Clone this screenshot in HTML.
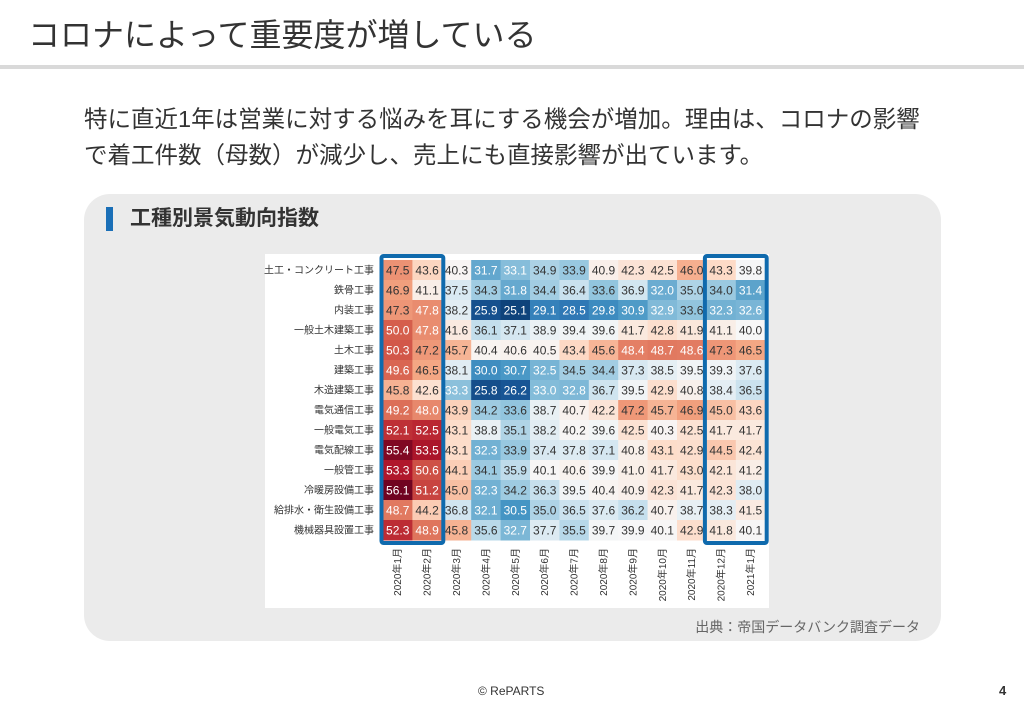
<!DOCTYPE html>
<html><head><meta charset="utf-8">
<style>
*{margin:0;padding:0;box-sizing:border-box}
body{width:1024px;height:709px;background:#fff;position:relative;overflow:hidden;font-family:"Liberation Sans","Noto Sans CJK JP",sans-serif;color:#333}
.abs{position:absolute;white-space:nowrap}
</style></head><body>
<div class="abs" style="left:28px;top:14px;font-size:32px;line-height:42px;color:#333">コロナによって重要度が増している</div>
<div class="abs" style="left:0;top:65px;width:1024px;height:4px;background:#d9d9d9"></div>
<div class="abs" style="left:84px;top:101px;font-size:23.5px;line-height:36px;color:#333">特に直近1年は営業に対する悩みを耳にする機会が増加。理由は、コロナの影響<br>で着工件数（母数）が減少し、売上にも直接影響が出ています。</div>
<div class="abs" style="left:84px;top:194px;width:857px;height:447px;background:#ebebeb;border-radius:26px"></div>
<div class="abs" style="left:106px;top:207px;width:7px;height:24px;background:#1a6fb7"></div>
<div class="abs" style="left:130px;top:205px;font-size:21px;line-height:28px;font-weight:bold;color:#333">工種別景気動向指数</div>
<div class="abs" style="left:265px;top:254px;width:504px;height:354px;background:#fff"></div>
<svg class="abs" id="chart" style="left:0;top:0" width="1024" height="709"></svg>
<div class="abs" style="right:104px;top:617px;font-size:14px;color:#666">出典：帝国データバンク調査データ</div>
<div class="abs" style="left:478px;top:684px;font-size:12px;color:#333">© RePARTS</div>
<div class="abs" style="left:999px;top:683px;font-size:13px;font-weight:bold;color:#333">4</div>
<script>
const rows=["土工・コンクリート工事","鉄骨工事","内装工事","一般土木建築工事","土木工事","建築工事","木造建築工事","電気通信工事","一般電気工事","電気配線工事","一般管工事","冷暖房設備工事","給排水・衛生設備工事","機械器具設置工事"];
const cols=["2020年1月","2020年2月","2020年3月","2020年4月","2020年5月","2020年6月","2020年7月","2020年8月","2020年9月","2020年10月","2020年11月","2020年12月","2021年1月"];
const values=[
[47.5,43.6,40.3,31.7,33.1,34.9,33.9,40.9,42.3,42.5,46.0,43.3,39.8],
[46.9,41.1,37.5,34.3,31.8,34.4,36.4,33.6,36.9,32.0,35.0,34.0,31.4],
[47.3,47.8,38.2,25.9,25.1,29.1,28.5,29.8,30.9,32.9,33.6,32.3,32.6],
[50.0,47.8,41.6,36.1,37.1,38.9,39.4,39.6,41.7,42.8,41.9,41.1,40.0],
[50.3,47.2,45.7,40.4,40.6,40.5,43.4,45.6,48.4,48.7,48.6,47.3,46.5],
[49.6,46.5,38.1,30.0,30.7,32.5,34.5,34.4,37.3,38.5,39.5,39.3,37.6],
[45.8,42.6,33.3,25.8,26.2,33.0,32.8,36.7,39.5,42.9,40.8,38.4,36.5],
[49.2,48.0,43.9,34.2,33.6,38.7,40.7,42.2,47.2,45.7,46.9,45.0,43.6],
[52.1,52.5,43.1,38.8,35.1,38.2,40.2,39.6,42.5,40.3,42.5,41.7,41.7],
[55.4,53.5,43.1,32.3,33.9,37.4,37.8,37.1,40.8,43.1,42.9,44.5,42.4],
[53.3,50.6,44.1,34.1,35.9,40.1,40.6,39.9,41.0,41.7,43.0,42.1,41.2],
[56.1,51.2,45.0,32.3,34.2,36.3,39.5,40.4,40.9,42.3,41.7,42.3,38.0],
[48.7,44.2,36.8,32.1,30.5,35.0,36.5,37.6,36.2,40.7,38.7,38.3,41.5],
[52.3,48.9,45.8,35.6,32.7,37.7,35.5,39.7,39.9,40.1,42.9,41.8,40.1]];
const highlightGroups=[[0,1],[11,12]];
const X0=383,Y0=260,CW=29.4,RH=20;
const xPos=i=>X0+i*CW, yPos=j=>Y0+j*RH;
const stops=[[0,[5,48,97]],[0.1,[33,102,172]],[0.2,[67,147,195]],[0.3,[146,197,222]],[0.4,[209,229,240]],[0.5,[247,247,247]],[0.6,[253,219,199]],[0.7,[244,165,130]],[0.8,[214,96,77]],[0.9,[178,24,43]],[1,[103,0,31]]];
function color(v){
  let t=v<40?0.5-0.5*(40-v)/16:0.5+0.5*(v-40)/16.5;
  t=Math.max(0,Math.min(1,t));
  for(let k=1;k<stops.length;k++){if(t<=stops[k][0]){const a=stops[k-1],b=stops[k],f=(t-a[0])/(b[0]-a[0]);
  return 'rgb('+a[1].map((c,i)=>Math.round(c+(b[1][i]-c)*f)).join(',')+')';}}
  return 'rgb(103,0,31)';
}
const svg=document.getElementById('chart');const NS='http://www.w3.org/2000/svg';
function mk(t,a){const e=document.createElementNS(NS,t);for(const k in a)e.setAttribute(k,a[k]);svg.appendChild(e);return e;}
values.forEach((row,j)=>row.forEach((v,i)=>{
  const r=mk('rect',{x:xPos(i),y:yPos(j),width:CW+0.5,height:RH+0.5,fill:color(v)});
  
  
  const t=mk('text',{x:xPos(i)+CW/2,y:yPos(j)+RH/2+4.5,'text-anchor':'middle','font-size':12,fill:(v<33.5||v>47.7)?'#fff':'#333','font-family':'Liberation Sans, sans-serif'});
  t.textContent=v.toFixed(1);
  
  
}));
rows.forEach((n,j)=>{
  const t=mk('text',{x:374,y:yPos(j)+RH/2+3.5,'text-anchor':'end','font-size':10,fill:'#333','font-family':'Liberation Sans, Noto Sans CJK JP, sans-serif'});
  t.textContent=n;
  
  
});
cols.forEach((n,i)=>{
  const cx=xPos(i)+CW/2+3.5,cy=548;
  const t=mk('text',{x:cx,y:cy,'text-anchor':'end','font-size':10,fill:'#333',transform:`rotate(-90 ${cx} ${cy})`,'font-family':'Liberation Sans, Noto Sans CJK JP, sans-serif'});
  t.textContent=n;
  
  
});
highlightGroups.forEach(g=>{
  const x1=xPos(g[0])-1.5,x2=xPos(g[g.length-1]+1)+1.5;
  const r=mk('rect',{x:x1,y:Y0-4,width:x2-x1,height:rows.length*RH+7,fill:'none',stroke:'#0f6aad','stroke-width':4,rx:2});
  
  
});
</script>
</body></html>
